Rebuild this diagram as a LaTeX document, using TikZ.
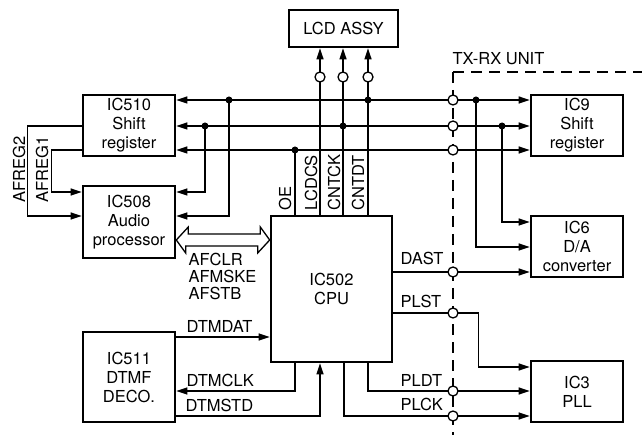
\documentclass[tikz,border=0pt]{standalone}
\usepackage{fontspec}
\setmainfont{TeX Gyre Heros}
\usetikzlibrary{arrows.meta}

\tikzset{
  block/.style={draw, line width=2.6pt, align=center, minimum width=92pt, minimum height=61pt, inner sep=0pt},
  lbl/.style={inner sep=0pt, anchor=base west},
  vlbl/.style={inner sep=0pt, rotate=90, anchor=base west},
  dot/.style={circle, fill, inner sep=0pt, minimum size=7pt},
  port/.style={circle, draw, fill=white, line width=1.3pt, inner sep=0pt, minimum size=10pt},
  boundary/.style={line width=2.6pt, dash pattern=on 11pt off 7pt},
}

\begin{document}
\begin{tikzpicture}[x=1pt, y=-1pt, line width=1.3pt, >={Triangle[length=11pt,width=7pt]},
  font=\fontsize{16.5}{19}\selectfont]
  \useasboundingbox (0,0) rectangle (642,435);

  % blocks
  \node[block, minimum width=109pt, minimum height=37pt] (lcd) at (343.5,28.5) {LCD ASSY};
  \node[block] (ic510) at (129,125.5) {IC510\\Shift\\register};
  \node[block, minimum height=72pt] (ic508) at (129,222) {IC508\\Audio\\processor};
  \node[block, minimum height=90pt] (ic511) at (129,377) {IC511\\DTMF\\DECO.};
  \node[block, minimum width=121pt, minimum height=146pt] (cpu) at (331.5,289) {IC502\\CPU};
  \node[block] (ic9) at (577,125.5) {IC9\\Shift\\register};
  \node[block] (ic6) at (577,246.5) {IC6\\D/A\\converter};
  \node[block] (ic3) at (577,391.5) {IC3\\PLL};

  % bus rows, junctions and ports
  \coordinate (bA) at (0,100);
  \coordinate (bB) at (0,126);
  \coordinate (bC) at (0,150);
  \coordinate (tx) at (453,72);
  \coordinate (jOE) at (295,150);
  \coordinate (jCK) at (343,126);
  \coordinate (jDT) at (368,100);
  \coordinate (j508a) at (229,100);
  \coordinate (j508b) at (205,126);
  \coordinate (j6a) at (476,100);
  \coordinate (j6b) at (502,126);
  \coordinate (pLC) at (320,77);
  \coordinate (pCK) at (343,77);
  \coordinate (pDT) at (368,77);
  \coordinate (pA) at (453,100);
  \coordinate (pB) at (453,126);
  \coordinate (pC) at (453,150);
  \coordinate (pDAST) at (453,272);
  \coordinate (pPLST) at (453,313);
  \coordinate (pPLDT) at (453,391);
  \coordinate (pPLCK) at (453,416);

  % TX-RX unit boundary
  \draw[boundary] (tx) -- (642,72);
  \draw[boundary] (tx) -- (453,435);
  \node[lbl] (txrx) at (452,65) {TX-RX UNIT};

  % serial bus
  \foreach \b in {bA,bB,bC}
    \draw[<->] (ic510.east |- \b) -- (ic9.west |- \b);
  \draw[->] (j508a) |- (ic508.east |- 0,216);
  \draw[->] (j508b) |- (ic508.east |- 0,192);
  \draw[->] (j6a) |- (ic6.west |- 0,247);
  \draw[->] (j6b) |- (ic6.west |- 0,222);
  \draw (cpu.north -| jOE) -- (jOE);
  \foreach \p in {pLC,pCK,pDT}
    \draw[->] (cpu.north -| \p) -- (lcd.south -| \p);

  % AFREG lines
  \draw[->] (ic510.west |- bB) -- ++(-54,0) |- (ic508.west |- 0,216);
  \draw[->] (ic510.west |- bC) -- ++(-30,0) |- (ic508.west |- 0,192);
  \node[vlbl] (afreg2) at (25,203) {AFREG2};
  \node[vlbl] (afreg1) at (48,203) {AFREG1};

  % audio processor <-> cpu
  \coordinate (hl) at (ic508.east |- 0,240);
  \coordinate (hr) at (cpu.west |- 0,240);
  \draw[fill=white] (hl) -- ++(12,-13) -- ++(0,7) -- ++(72,0) -- ++(0,-7) -- (hr)
    -- ++(-12,13) -- ++(0,-7) -- ++(-72,0) -- ++(0,7) -- cycle;
  \foreach \t [count=\i] in {AFCLR,AFMSKE,AFSTB}
    \node[lbl] (af\i) at (188,249+17*\i) {\t};

  % DTMF decoder
  \draw[->] (ic511.east |- 0,337) -- (cpu.west |- 0,337);
  \draw[->] (cpu.south -| 295,0) |- (ic511.east |- 0,391);
  \draw[->] (ic511.east |- 0,416) -| (cpu.south -| 320,0);
  \node[lbl] (dtmdat) at (186,332) {DTMDAT};
  \node[lbl] (dtmclk) at (186,386) {DTMCLK};
  \node[lbl] (dtmstd) at (185,411) {DTMSTD};

  % D/A and PLL
  \draw[->] (cpu.east |- pDAST) -- (ic6.west |- pDAST);
  \draw[->] (cpu.east |- pPLST) -- ++(85,0) |- (ic3.west |- 0,367);
  \draw[->] (cpu.south -| pDT) |- (ic3.west |- pPLDT);
  \draw[->] (cpu.south -| 344,0) |- (ic3.west |- pPLCK);
  \node[lbl] (dast) at (400,265) {DAST};
  \node[lbl] (plst) at (400,308) {PLST};
  \node[lbl] (pldt) at (400,386) {PLDT};
  \node[lbl] (plck) at (400,410) {PLCK};

  % CPU pin labels
  \node[vlbl] (oe) at (291,211) {OE};
  \node[vlbl] (lcdcs) at (317,211) {LCDCS};
  \node[vlbl] (cntck) at (340,211) {CNTCK};
  \node[vlbl] (cntdt) at (364,211) {CNTDT};

  % dots and ports
  \foreach \j in {jOE,jCK,jDT,j508a,j508b,j6a,j6b}
    \node[dot] (d\j) at (\j) {};
  \foreach \p in {pLC,pCK,pDT,pA,pB,pC,pDAST,pPLST,pPLDT,pPLCK}
    \node[port] (o\p) at (\p) {};
\end{tikzpicture}
\end{document}
